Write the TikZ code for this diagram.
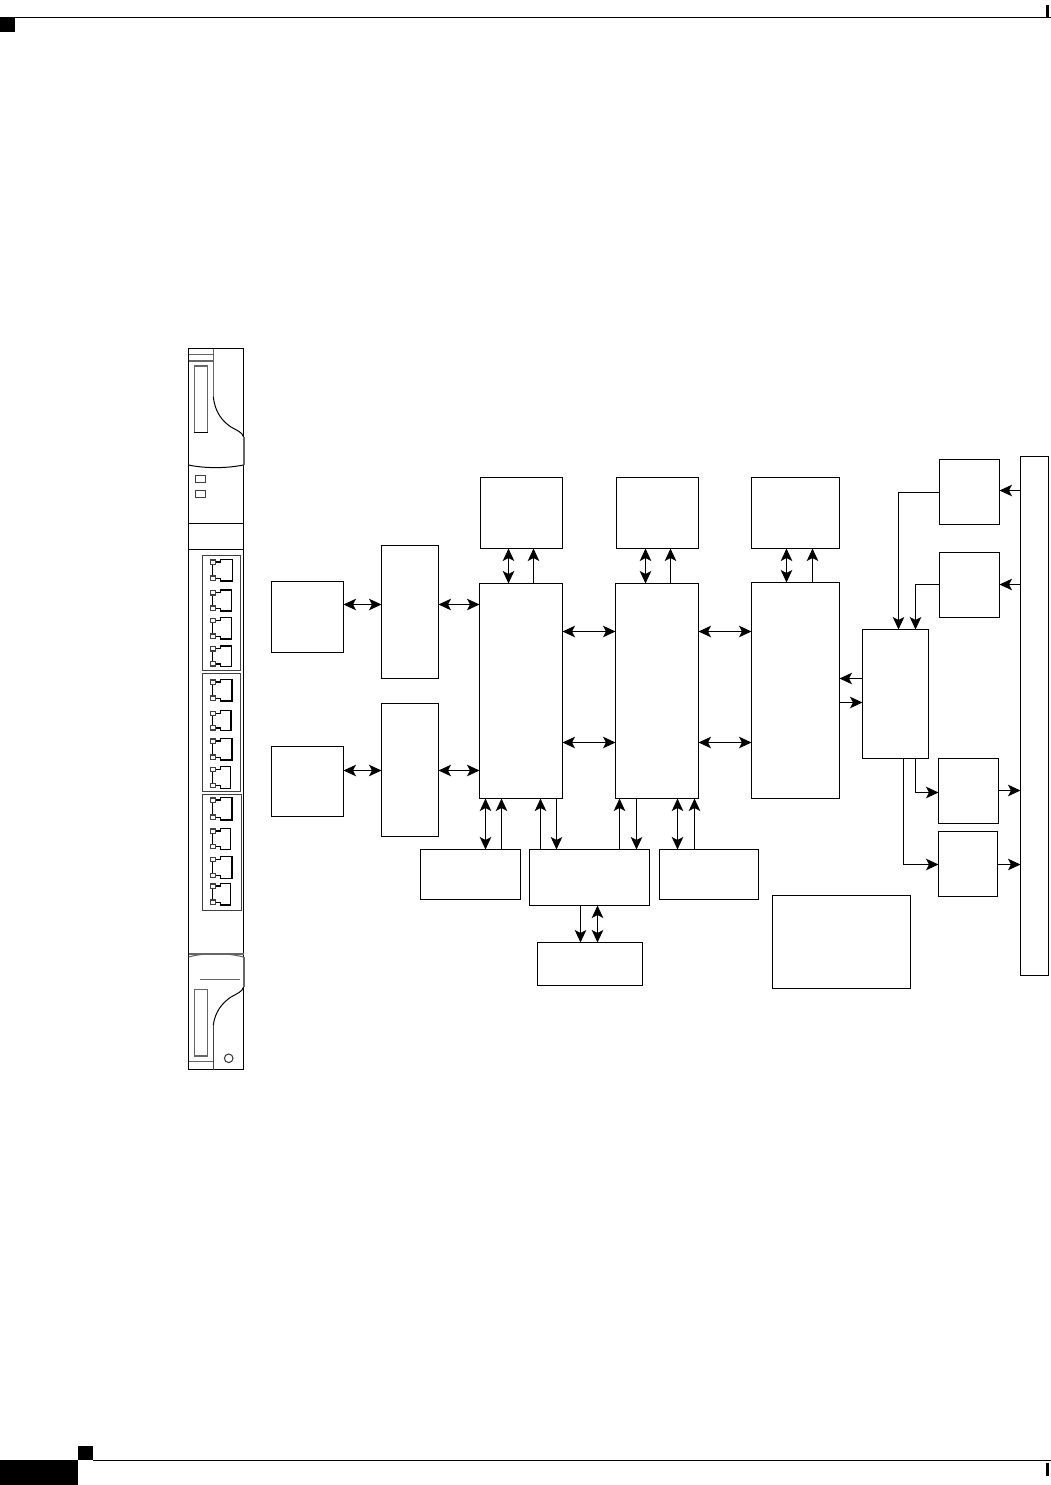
\documentclass[tikz,border=0pt]{standalone}
\usetikzlibrary{arrows.meta}
\tikzset{
  bx/.style={draw=black,line width=1pt,fill=white,inner sep=0pt,outer sep=0pt},
  tip/.tip={Stealth[length=12.5pt,width=11.5pt,inset=3pt]},
  conn/.style={draw=black,line width=1pt},
  one/.style={conn,-{tip}},
  two/.style={conn,{tip}-{tip}},
  dk/.style={draw=black,line width=1pt},
  gr/.style={draw=black!60,line width=1.1pt},
  prt/.style={draw=black,line width=1.1pt},
  sq/.style={draw=black!75,line width=1.1pt,fill=white}
}
\newcommand\bx[5]{\node[bx,minimum width={(#4-#2)*1pt},minimum height={(#5-#3)*1pt}] (#1) at ({(#2+#4)/2},{(#3+#5)/2}) {};}
% port: top y, bottom y, right x
\newcommand\rj[3]{%
  \draw[prt] (212.7,#1+2.5) -- (212.7,#2-3);
  \draw[prt] (215.3,#1+2.7) -- (220.3,#1+2.7) -- (220.3,#1) -- (#3,#1) -- (#3,#2) -- (220.3,#2) -- (220.3,#2-2.7) -- (215.3,#2-2.7);
  \draw[sq] (210.5,#1+.7) rectangle (215.3,#1+5);
  \draw[sq] (210.5,#2-5) rectangle (215.3,#2-.7);
}
\begin{document}
\begin{tikzpicture}[x=1pt,y=-1pt]
\useasboundingbox (0,0) rectangle (1051,1485);
\fill[white] (0,0) rectangle (1051,1485);
% page furniture
\fill[black] (0,17) rectangle (15,32);
\draw[line width=1.3pt] (15,17.3) -- (1051,17.3);
\draw[line width=2.2pt] (1047.5,5) -- (1047.5,17);
\fill[black] (0,1460) rectangle (78,1485);
\fill[black] (78,1446) rectangle (93,1460);
\draw[line width=1.2pt] (93,1460.3) -- (1051,1460.3);
\draw[line width=2.2pt] (1047.5,1463) -- (1047.5,1476);
% chassis
\draw[dk] (188.5,348.5) rectangle (243.5,1069.5);
\draw[gr] (188.5,354.7) -- (213.3,354.7);
\draw[gr] (188.5,361) -- (213.3,361);
\draw[gr] (213.3,348.5) -- (213.3,397);
\draw[dk] (213.3,397) .. controls (215,412) and (222,421) .. (231,427) .. controls (237,430.5) and (242,432) .. (243.5,436.7);
\draw[gr] (244,436.7) -- (244,465);
\draw[dk] (188.5,465) .. controls (205,468.5) and (226,468.5) .. (243.5,465);
\draw[gr] (194.3,432.3) -- (194.3,366) -- (207.7,366) -- (207.7,432.3);
\draw[dk] (194.3,432.3) -- (207.7,432.3);
\draw[dk,draw=black!75] (195.7,475.7) rectangle (205.7,482.7);
\draw[dk,draw=black!75] (195.7,490.7) rectangle (205.7,497.7);
\draw[dk] (188.5,523.3) -- (243.5,523.3);
\draw[dk] (188.5,549.3) -- (243.5,549.3);
% port groups
\draw[dk,draw=black!75] (202.3,555) rectangle (240.7,670);
\draw[dk,draw=black!75] (202.3,673.3) rectangle (240.7,791);
\draw[dk,draw=black!75] (202.3,794.3) rectangle (241.5,910.7);
\rj{559.3}{581}{232.7}
\rj{590}{611}{231.7}
\rj{617.7}{639}{231.7}
\rj{646}{666.7}{231.7}
\rj{679.3}{701}{232}
\rj{710.7}{730.7}{231}
\rj{738.3}{760}{232}
\rj{766.7}{788.3}{230.7}
\rj{797.3}{820}{232}
\rj{828.3}{849.3}{230.7}
\rj{856.7}{878.3}{232}
\rj{883.3}{905}{230.7}
% lower handle
\draw[gr] (188.5,957) .. controls (205,952.5) and (226,952.5) .. (243.5,957);
\draw[gr] (188.5,954) -- (243.5,954);
\draw[gr] (244,957) -- (244,987.3);
\draw[gr] (200,979.3) -- (240,979.3);
\draw[gr] (194.3,1056) -- (194.3,989.3) -- (207.7,989.3) -- (207.7,1056) -- cycle;
\draw[dk] (243.5,987.3) .. controls (242,992) and (237,993.5) .. (231,997) .. controls (222,1003) and (215,1012) .. (213.3,1025);
\draw[dk,draw=black!75] (213.3,1025) -- (213.3,1069.5);
\draw[gr] (188.5,1061.7) -- (213.3,1061.7);
\draw[dk,draw=black!80] (228.7,1058.3) circle (4.3);
% boxes
\bx{Aa}{271.5}{581.5}{343.5}{652.5}
\bx{Ab}{271.5}{746}{343.5}{816}
\bx{Ba}{381.5}{545.5}{438.5}{678.5}
\bx{Bb}{381.5}{703.5}{438.5}{836.5}
\bx{Ca}{480.5}{477.5}{562.5}{548.5}
\bx{Cb}{616.5}{477.5}{698.5}{548.5}
\bx{Cc}{751.5}{477.5}{839.5}{548.5}
\bx{Da}{479.5}{583.5}{562.5}{798.5}
\bx{Db}{615.5}{583.5}{698.5}{798.5}
\bx{Dc}{751.5}{582.5}{839.5}{798.5}
\bx{E}{862.5}{629.5}{928.5}{758.5}
\bx{Fa}{939.5}{459.5}{999.5}{524}
\bx{Fb}{939.5}{552.5}{999.5}{617.5}
\bx{Fc}{938.5}{758.5}{998.5}{823.5}
\bx{Fd}{938.5}{831.5}{997.5}{896.5}
\bx{Bar}{1020.5}{456.5}{1048.5}{975}
\bx{Ga}{420.5}{849.5}{520.5}{899.5}
\bx{Gb}{529.5}{849.5}{649.5}{905.5}
\bx{Gc}{659.5}{849.5}{758.5}{899.5}
\bx{H}{537.5}{942.5}{642.5}{985.5}
\bx{I}{772.5}{895.5}{910.5}{988.5}
% horizontal connectors
\draw[two] (Aa.east |- 0,604.5) -- (Ba.west |- 0,604.5);
\draw[two] (Ba.east |- 0,604.5) -- (Da.west |- 0,604.5);
\draw[two] (Ab.east |- 0,770.5) -- (Bb.west |- 0,770.5);
\draw[two] (Bb.east |- 0,770.5) -- (Da.west |- 0,770.5);
\draw[two] (Da.east |- 0,631.5) -- (Db.west |- 0,631.5);
\draw[two] (Da.east |- 0,742.5) -- (Db.west |- 0,742.5);
\draw[two] (Db.east |- 0,631.5) -- (Dc.west |- 0,631.5);
\draw[two] (Db.east |- 0,742.5) -- (Dc.west |- 0,742.5);
\draw[one] (E.west |- 0,678.5) -- (Dc.east |- 0,678.5);
\draw[one] (Dc.east |- 0,702.5) -- (E.west |- 0,702.5);
\draw[one] (Bar.west |- 0,490.5) -- (Fa.east |- 0,490.5);
\draw[one] (Bar.west |- 0,584.5) -- (Fb.east |- 0,584.5);
\draw[one] (Fc.east |- 0,790.5) -- (Bar.west |- 0,790.5);
\draw[one] (Fd.east |- 0,864.5) -- (Bar.west |- 0,864.5);
% vertical connectors, top memories
\draw[two] (508.5,0 |- Ca.south) -- (508.5,0 |- Da.north);
\draw[one] (533.5,0 |- Da.north) -- (533.5,0 |- Ca.south);
\draw[two] (645.5,0 |- Cb.south) -- (645.5,0 |- Db.north);
\draw[one] (670.5,0 |- Db.north) -- (670.5,0 |- Cb.south);
\draw[two] (786.5,0 |- Cc.south) -- (786.5,0 |- Dc.north);
\draw[one] (812.5,0 |- Dc.north) -- (812.5,0 |- Cc.south);
% vertical connectors, lower row
\draw[two] (485.5,0 |- Da.south) -- (485.5,0 |- Ga.north);
\draw[one] (501.5,0 |- Ga.north) -- (501.5,0 |- Da.south);
\draw[one] (540.5,0 |- Gb.north) -- (540.5,0 |- Da.south);
\draw[one] (556.5,0 |- Da.south) -- (556.5,0 |- Gb.north);
\draw[one] (619.5,0 |- Gb.north) -- (619.5,0 |- Db.south);
\draw[one] (636.5,0 |- Db.south) -- (636.5,0 |- Gb.north);
\draw[two] (677.5,0 |- Db.south) -- (677.5,0 |- Gc.north);
\draw[one] (694.5,0 |- Gc.north) -- (694.5,0 |- Db.south);
\draw[one] (580.5,0 |- Gb.south) -- (580.5,0 |- H.north);
\draw[two] (597.5,0 |- Gb.south) -- (597.5,0 |- H.north);
% elbow connectors
\draw[one] (Fa.west |- 0,492.5) -- (898.5,492.5) -- (898.5,0 |- E.north);
\draw[one] (Fb.west |- 0,584.5) -- (915.5,584.5) -- (915.5,0 |- E.north);
\draw[one] (915.5,0 |- E.south) -- (915.5,792.5) -- (Fc.west |- 0,792.5);
\draw[one] (903.5,0 |- E.south) -- (903.5,864.5) -- (Fd.west |- 0,864.5);
\end{tikzpicture}
\end{document}
